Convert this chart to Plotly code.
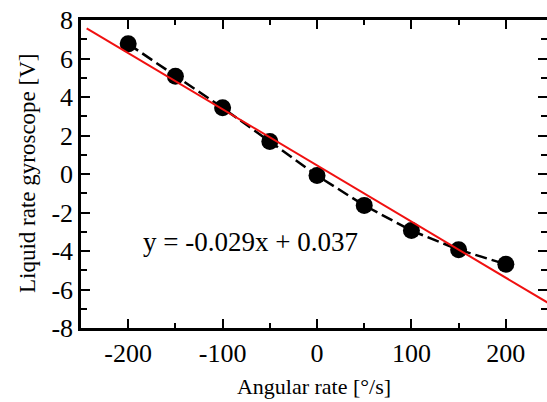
import plotly.graph_objects as go

# Data
angular_rate = [-200, -150, -100, -50, 0, 50, 100, 150, 200]
gyro_voltage = [6.76, 5.08, 3.44, 1.69, -0.08, -1.63, -2.94, -3.93, -4.69]

# Red fitted line as drawn (end points)
fit_x = [-244, 250]
fit_y = [7.57, -6.85]
fit_label = "y = -0.029x + 0.037"

x_ticks = [-200, -100, 0, 100, 200]
x_tick_labels = ["-200", "-100", "0", "100", "200"]
y_ticks = [-8, -6, -4, -2, 0, 2, 4, 6, 8]
y_tick_labels = ["-8", "-6", "-4", "-2", "0", "2", "4", "6", "8"]

FONT = "Liberation Serif"

fig = go.Figure()
fig.add_trace(go.Scatter(
    x=angular_rate, y=gyro_voltage, mode="lines+markers",
    line=dict(color="black", width=2.5, dash="12px,5px"),
    marker=dict(color="black", size=17),
    showlegend=False,
))
fig.add_trace(go.Scatter(
    x=fit_x, y=fit_y, mode="lines",
    line=dict(color="#f01010", width=2),
    showlegend=False,
))

fig.add_annotation(
    x=-70, y=-3.55, text=fit_label, showarrow=False,
    font=dict(family=FONT, size=27, color="black"),
)
# y-axis title placed as rotated text left of the tick labels
fig.add_annotation(
    xref="paper", yref="paper", x=0, y=0.5, xanchor="center", yanchor="middle",
    xshift=-54, yshift=1,
    text="Liquid rate gyroscope [V]", textangle=-90, showarrow=False,
    font=dict(family=FONT, size=23, color="black"),
)

fig.update_layout(
    width=547, height=402,
    margin=dict(l=81, r=0, t=20, b=74),
    paper_bgcolor="white", plot_bgcolor="white",
    font=dict(family=FONT, color="black"),
)
fig.update_xaxes(
    range=[-250, 243.6], tickvals=x_ticks, ticktext=x_tick_labels,
    ticks="inside", ticklen=9, tickwidth=2, automargin=False, ticklabeloverflow="allow",
    tickcolor="black", showline=True, linecolor="black", linewidth=2.5, mirror="ticks",
    showgrid=False, zeroline=False, tickfont=dict(family=FONT, size=26, color="black"),
    minor=dict(dtick=50, tick0=0, ticks="inside", ticklen=5, tickwidth=2, tickcolor="black", showgrid=False),
    title=dict(text="Angular rate [°/s]", font=dict(family=FONT, size=22, color="black"), standoff=12),
)
fig.update_yaxes(
    range=[-8, 8], tickvals=y_ticks, ticktext=y_tick_labels,
    ticks="inside", ticklen=9, tickwidth=2, automargin=False, ticklabeloverflow="allow",
    tickcolor="black", showline=True, linecolor="black", linewidth=2.5, mirror="ticks",
    showgrid=False, zeroline=False, tickfont=dict(family=FONT, size=26, color="black"),
    minor=dict(dtick=1, tick0=0, ticks="inside", ticklen=6, tickwidth=2, tickcolor="black", showgrid=False),
)

# Remove the page's default 8px body margin so the figure fills the window exactly
fig.write_html("out.html", config={"displayModeBar": False},
               post_script="document.body.style.margin='0px';")
